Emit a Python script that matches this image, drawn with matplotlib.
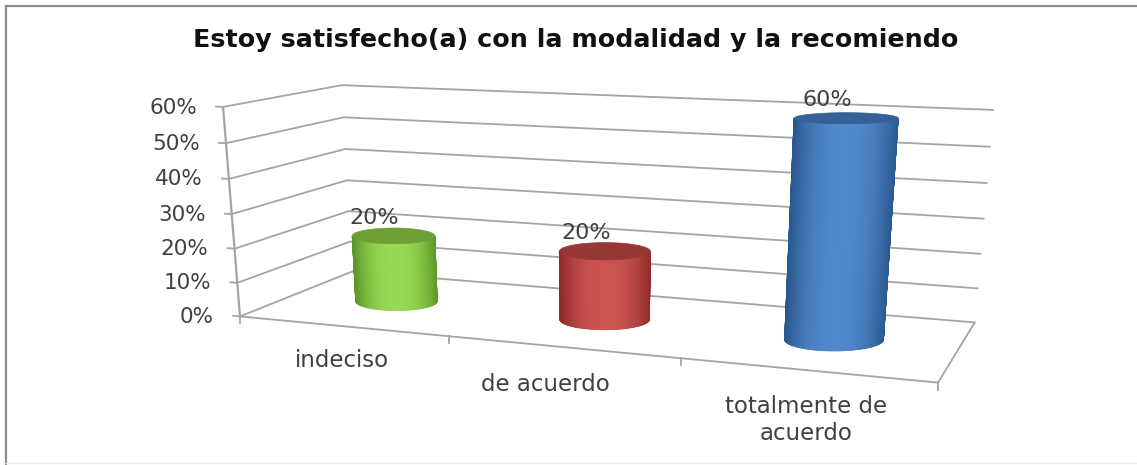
import matplotlib
matplotlib.use("Agg")
import matplotlib.pyplot as plt
import numpy as np

"""
Cylinder chart with a perspective floor. A small camera matrix is fit from
the frame corners, then everything is projected from data coordinates.
"""

title = "Estoy satisfecho(a) con la modalidad y la recomiendo"
categories = ["indeciso", "de acuerdo", "totalmente de\nacuerdo"]
values = [20, 20, 60]
value_labels = ["20%", "20%", "60%"]
yticks = [0, 10, 20, 30, 40, 50, 60]
ytick_labels = ["0%", "10%", "20%", "30%", "40%", "50%", "60%"]

#Colour of each cylinder: centre, edge, top
side_light = ["#97d955", "#cb5451", "#5088cb"]
side_dark = ["#5c9628", "#8e2b29", "#29588f"]
top_clr = ["#6d9f33", "#973836", "#366196"]

grid_clr = "#a4a4a4"
text_clr = "#404040"
font = "DejaVu Sans"


def fit_camera():
    #(category, depth, value) -> pixel, for the corners of the chart frame
    world = [(0, 0, 0), (3, 0, 0), (3, 1, 0), (0, 1, 0), (0, 0, 60), (0, 1, 60), (3, 1, 60)]
    pix = [(241, 316), (938, 383), (975, 322), (351, 272), (222, 107), (343, 85), (993, 110)]
    rows = []
    rhs = []
    for (x, d, v), (u, w) in zip(world, pix):
        rows.append([x, d, v, 1, 0, 0, 0, 0, -u * x, -u * d, -u * v])
        rhs.append(u)
        rows.append([0, 0, 0, 0, x, d, v, 1, -w * x, -w * d, -w * v])
        rhs.append(w)
    sol = np.linalg.lstsq(np.array(rows, float), np.array(rhs, float), rcond=None)[0]
    return np.append(sol, 1).reshape(3, 4)


def project(cam, x, d, v):
    x, d, v = np.broadcast_arrays(np.asarray(x, float), np.asarray(d, float), np.asarray(v, float))
    pts = np.stack([x, d, v, np.ones_like(x)])
    out = cam @ pts.reshape(4, -1)
    out = out[:2] / out[2]
    return out[0].reshape(x.shape), out[1].reshape(x.shape)


def line(ax, cam, p0, p1, lw=1.3, clr=grid_clr):
    u, w = project(cam, [p0[0], p1[0]], [p0[1], p1[1]], [p0[2], p1[2]])
    ax.plot(u, w, "-", color=clr, lw=lw, solid_capstyle="round", zorder=1)


def draw_frame(ax, cam):
    for v, lbl in zip(yticks, ytick_labels):
        line(ax, cam, (0, 0, v), (0, 1, v))
        line(ax, cam, (0, 1, v), (3, 1, v))
        line(ax, cam, (-0.035, 0, v), (0, 0, v))
        u, w = project(cam, -0.035, 0, v)
        ax.text(u - 19, w + 1, lbl, ha="right", va="center", color=text_clr, fontsize=15.5, family=font)

    line(ax, cam, (0, 0, 0), (0, 0, 60), lw=1.6)
    line(ax, cam, (0, 0, 0), (3, 0, 0))
    line(ax, cam, (3, 0, 0), (3, 1, 0))
    for x in [0, 1, 2, 3]:
        u, w = project(cam, x, 0, 0)
        ax.plot([u, u], [w, w + 7], "-", color=grid_clr, lw=1.3, zorder=1)


def ellipse(cam, xc, dc, rx, rd, val, theta):
    #The ellipses stay level on screen, only their size follows the perspective
    u, w = project(cam, xc, dc, val)
    u0, _ = project(cam, xc - rx, dc, val)
    u1, _ = project(cam, xc + rx, dc, val)
    _, w0 = project(cam, xc, dc - rd, val)
    _, w1 = project(cam, xc, dc + rd, val)
    return u + (u1 - u0) / 2 * np.cos(theta), w + abs(w0 - w1) / 2 * np.sin(theta)


def draw_cylinder(ax, cam, i, val):
    xc = i + 0.5
    dc = 0.5
    rx = 0.205
    rd = 0.2

    #Only the front half of the side can be seen, sin > 0 is downwards on screen
    theta = np.linspace(0, np.pi, 181)
    ub, wb = ellipse(cam, xc, dc, rx, rd, 0, theta)
    ut, wt = ellipse(cam, xc, dc, rx, rd, val, theta)

    light = np.array(matplotlib.colors.to_rgb(side_light[i]))
    dark = np.array(matplotlib.colors.to_rgb(side_dark[i]))
    for j in range(len(theta) - 1):
        t = (np.cos(theta[j] + np.pi / 360) + 1) / 2
        shade = np.clip(1 - abs(2 * t - 1.0) ** 2.4, 0, 1)
        clr = dark + (light - dark) * shade
        ax.fill([ub[j], ub[j + 1], ut[j + 1], ut[j]], [wb[j], wb[j + 1], wt[j + 1], wt[j]],
                color=clr, lw=0.6, zorder=3)

    full = np.linspace(0, 2 * np.pi, 121)
    ue, we = ellipse(cam, xc, dc, rx, rd, val, full)
    ax.fill(ue, we, color=top_clr[i], lw=0.5, zorder=4)

    u, w = project(cam, xc, dc, val)
    ax.text(u - 19, w - 18, value_labels[i], ha="center", va="center", color=text_clr,
            fontsize=16, family=font, zorder=5)


def main():
    fig = plt.figure(figsize=(11.37, 4.65), dpi=100)
    ax = fig.add_axes([0, 0, 1, 1])
    ax.set_xlim(0, 1137)
    ax.set_ylim(465, 0)
    ax.axis("off")

    #Chart border, left and top are the heavy ones
    ax.plot([6, 6], [6, 465], "-", color="#8c8c8c", lw=1.6)
    ax.plot([6, 1137], [6, 6], "-", color="#8c8c8c", lw=1.6)
    ax.plot([6, 1137], [463, 463], "-", color="#ececec", lw=1)

    ax.text(576, 40, title, ha="center", va="center", color="#111111", fontsize=18.3,
            fontweight="bold", family=font)

    cam = fit_camera()
    draw_frame(ax, cam)
    for i, val in enumerate(values):
        draw_cylinder(ax, cam, i, val)

    label_x = [342, 545, 806]
    label_y = [360, 384, 420]
    for lbl, x, y in zip(categories, label_x, label_y):
        ax.text(x, y, lbl, ha="center", va="center", color=text_clr, fontsize=16.5,
                family=font, linespacing=1.2)

    fig.savefig("out.png", dpi=100)


main()
